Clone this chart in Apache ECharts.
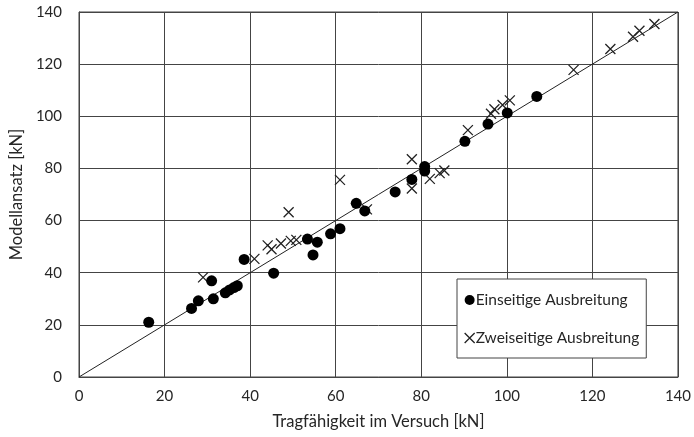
<!DOCTYPE html>
<html>
<head>
<meta charset="utf-8">
<script src="https://cdn.jsdelivr.net/npm/echarts@6/dist/echarts.min.js"></script>
<style>html,body{margin:0;padding:0;background:#fff}#c{width:694px;height:437px}</style>
</head>
<body>
<div id="c"></div>
<script>
const xTitle = 'Tragfähigkeit im Versuch [kN]';
const yTitle = 'Modellansatz [kN]';
const seriesNames = ['Einseitige Ausbreitung', 'Zweiseitige Ausbreitung'];
const einseitigX = [16.3, 26.3, 27.9, 31.0, 31.4, 34.2, 35.2, 36.2, 37.0, 38.6, 45.5, 53.4, 54.7, 55.7, 58.8, 61.0, 64.8, 66.8, 73.9, 77.8, 80.8, 80.8, 90.2, 95.6, 100.1, 107.0];
const einseitigY = [21.0, 26.3, 29.2, 36.9, 30.0, 32.3, 33.4, 34.3, 35.0, 45.1, 39.8, 52.9, 46.8, 51.7, 54.9, 56.9, 66.6, 63.7, 71.0, 75.8, 80.7, 79.0, 90.4, 97.0, 101.3, 107.6];
const zweiseitigX = [29.0, 41.0, 44.1, 45.0, 47.2, 49.5, 50.8, 49.0, 61.0, 67.3, 77.8, 77.8, 82.0, 84.3, 85.4, 90.9, 96.3, 97.1, 99.0, 100.7, 115.6, 124.2, 129.5, 131.0, 134.5];
const zweiseitigY = [38.2, 45.3, 50.5, 49.0, 51.2, 52.2, 52.6, 63.2, 75.6, 64.3, 83.5, 72.3, 76.0, 78.2, 79.2, 94.7, 101.0, 102.7, 104.3, 106.1, 117.8, 125.8, 130.5, 132.8, 135.4];
const diagX = [0, 140];
const diagY = [0, 140];
const axisTicks = [0, 20, 40, 60, 80, 100, 120, 140];

const pairs = (xs, ys) => xs.map((x, i) => [x, ys[i]]);
const FONT = 'Lato, "Open Sans", sans-serif';
const TXT = '#262626';
const GRID = '#444';
const crossPath = 'path://M0,0L10,10M10,0L0,10';

const chart = echarts.init(document.getElementById('c'), null, {renderer: 'canvas'});
const axisCommon = {
  type: 'value', min: axisTicks[0], max: axisTicks[axisTicks.length - 1], interval: 20,
  axisLine: {show: true, lineStyle: {color: GRID, width: 1}},
  axisTick: {show: false},
  splitLine: {show: true, lineStyle: {color: GRID, width: 1}},
  axisLabel: {color: TXT, fontFamily: FONT, fontSize: 15},
  nameTextStyle: {color: TXT, fontFamily: FONT, fontSize: 16.5}
};
chart.setOption({
  animation: false,
  backgroundColor: '#fff',
  grid: {left: 78, right: 12, top: 12, bottom: 60, show: true, borderColor: GRID, borderWidth: 1},
  xAxis: Object.assign({}, axisCommon, {
    name: xTitle, nameLocation: 'middle', nameGap: 36,
    axisLabel: Object.assign({}, axisCommon.axisLabel, {margin: 12})
  }),
  yAxis: Object.assign({}, axisCommon, {
    name: yTitle, nameLocation: 'middle', nameGap: 52,
    axisLabel: Object.assign({}, axisCommon.axisLabel, {margin: 17})
  }),
  legend: {
    orient: 'vertical', left: 457, top: 279, width: 180,
    padding: [13, 7, 12, 7], itemGap: 22,
    backgroundColor: '#fff', borderColor: GRID, borderWidth: 1, borderRadius: 0,
    itemWidth: 10, itemHeight: 10,
    textStyle: {color: TXT, fontFamily: FONT, fontSize: 15.5, padding: [0, 0, 0, -4]},
    data: [
      {name: seriesNames[0], icon: 'circle', itemStyle: {color: '#000', borderWidth: 0}},
      {name: seriesNames[1], icon: crossPath, itemStyle: {color: 'transparent', borderColor: '#222', borderWidth: 1.3}}
    ]
  },
  series: [
    {
      type: 'line', data: pairs(diagX, diagY), showSymbol: false, symbol: 'none',
      lineStyle: {color: '#222', width: 1}, silent: true, z: 1
    },
    {
      name: seriesNames[0], type: 'scatter', data: pairs(einseitigX, einseitigY),
      symbol: 'circle', symbolSize: 11, itemStyle: {color: '#000', opacity: 1}, z: 3
    },
    {
      name: seriesNames[1], type: 'scatter', data: pairs(zweiseitigX, zweiseitigY),
      symbol: crossPath, symbolSize: 10,
      itemStyle: {color: 'transparent', borderColor: '#222', borderWidth: 1.3, opacity: 1}, z: 2
    }
  ]
});
</script>
</body>
</html>
